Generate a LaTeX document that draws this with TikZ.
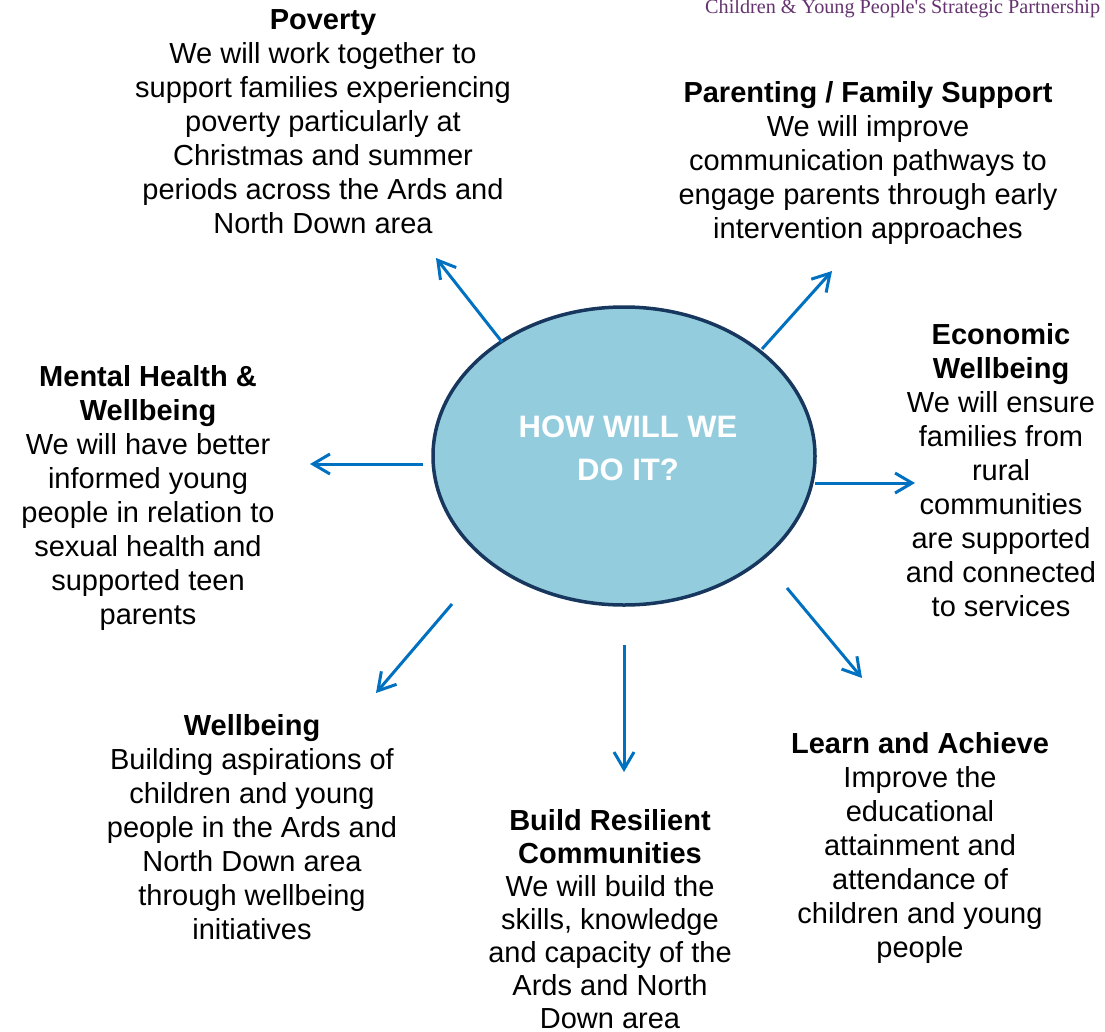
\documentclass[tikz,border=0pt]{standalone}
\usepackage{fontspec}
\setmainfont{Liberation Sans}
\newfontfamily\hdrfont{Liberation Serif}
\usetikzlibrary{arrows.meta,shapes.geometric}
\definecolor{arrowblue}{HTML}{0070C0}
\definecolor{hubfill}{HTML}{93CDDD}
\definecolor{hubline}{HTML}{17375E}
\definecolor{hdrpurple}{HTML}{65336F}
\newcommand{\firstln}{\rule{0pt}{22pt}}
\begin{document}
\begin{tikzpicture}[x=1pt,y=-1pt,
  blk/.style={align=center, anchor=north, font=\fontsize{29}{34}\selectfont, inner sep=0pt},
  conn/.style={draw=arrowblue, line width=3pt, -{Straight Barb[length=17pt,width=20pt]}}]
\useasboundingbox (0,0) rectangle (1105,1031);
% header
\node[anchor=base west, font=\hdrfont\fontsize{20.2}{20}\selectfont, text=hdrpurple, inner sep=0pt] (hdr) at (705,13.5) {Children \& Young People's Strategic Partnership};
% hub
\node[ellipse, draw=hubline, line width=3.5pt, fill=hubfill, minimum width=382pt, minimum height=298pt, inner sep=0pt] (hub) at (624,456) {};
\node[font=\fontsize{31}{43}\selectfont\bfseries, text=white, align=center, inner sep=0pt] (hubtext) at (628,448) {HOW WILL WE\\DO IT?};
% blocks (node top = first baseline - 22)
\node[blk] (poverty) at (323,7.3) {\firstln\textbf{Poverty}\\We will work together to\\support families experiencing\\poverty particularly at\\Christmas and summer\\periods across the Ards and\\North Down area};
\node[blk] (parent) at (868,80.7) {\firstln\textbf{Parenting / Family Support}\\We will improve\\communication pathways to\\engage parents through early\\intervention approaches};
\node[blk] (econ) at (1001,322.7) {\firstln\textbf{Economic}\\\textbf{Wellbeing}\\We will ensure\\families from\\rural\\communities\\are supported\\and connected\\to services};
\node[blk] (mental) at (148,364.7) {\firstln\textbf{Mental Health \&}\\\textbf{Wellbeing}\\We will have better\\informed young\\people in relation to\\sexual health and\\supported teen\\parents};
\node[blk] (wellb) at (252,713.3) {\firstln\textbf{Wellbeing}\\Building aspirations of\\children and young\\people in the Ards and\\North Down area\\through wellbeing\\initiatives};
\node[blk, font=\fontsize{29}{33}\selectfont] (build) at (610,808) {\firstln\textbf{Build Resilient}\\\textbf{Communities}\\We will build the\\skills, knowledge\\and capacity of the\\Ards and North\\Down area};
\node[blk] (learn) at (920,731.7) {\firstln\textbf{Learn and Achieve}\\Improve the\\educational\\attainment and\\attendance of\\children and young\\people};
% arrow ends
\coordinate (a1s) at (502,342); \coordinate (a1e) at (436,258);
\coordinate (a2s) at (762,349); \coordinate (a2e) at (832,271);
\coordinate (a3s) at (423,464); \coordinate (a3e) at (310,464);
\coordinate (a4s) at (815,483); \coordinate (a4e) at (915,483);
\coordinate (a5s) at (452,604); \coordinate (a5e) at (376,693);
\coordinate (a6s) at (624,645); \coordinate (a6e) at (624,772);
\coordinate (a7s) at (787,588); \coordinate (a7e) at (862,678);
\draw[conn] (a1s) -- (a1e);
\draw[conn] (a2s) -- (a2e);
\draw[conn] (a3s) -- (a3e);
\draw[conn] (a4s) -- (a4e);
\draw[conn] (a5s) -- (a5e);
\draw[conn] (a6s) -- (a6e);
\draw[conn] (a7s) -- (a7e);
\end{tikzpicture}
\end{document}
